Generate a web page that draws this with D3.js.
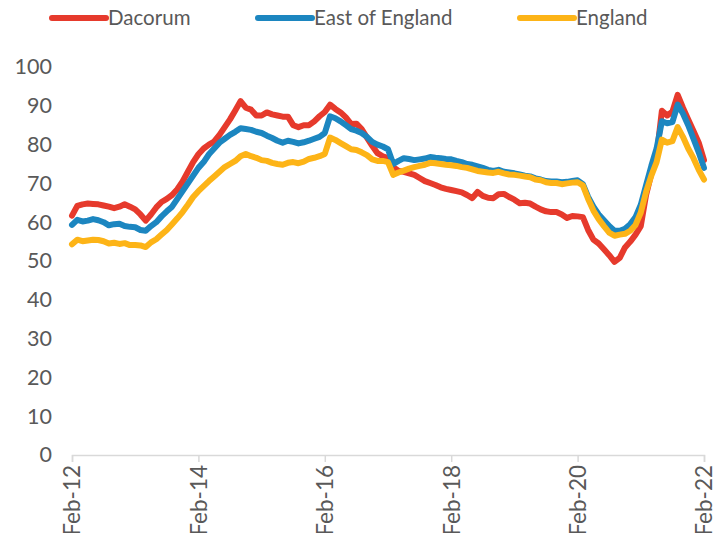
<!DOCTYPE html>
<html>
<head>
<meta charset="utf-8">
<script src="https://cdn.jsdelivr.net/npm/d3@7"></script>
<style>
  body { margin: 0; background: #fff; }
  text { font-family: Lato, "Open Sans", sans-serif; fill: #595959; }
</style>
</head>
<body>
<div id="chart"></div>
<script>
var width = 724, height = 533;

// monthly index, Feb-12 .. Feb-22
var months = d3.timeMonth.range(new Date(2012, 1, 1), new Date(2022, 2, 1));
var tickLabels = ["Feb-12", "Feb-14", "Feb-16", "Feb-18", "Feb-20", "Feb-22"];
var yTicks = [0, 10, 20, 30, 40, 50, 60, 70, 80, 90, 100];
var seriesNames = ["Dacorum", "East of England", "England"];
var colours = ["#e63a2c", "#1c86c0", "#fdb417"];

var dacorum = [
  61.7, 64.2, 64.6, 64.8, 64.7, 64.6, 64.3, 64.0, 63.6, 64.0, 64.6, 64.0,
  63.3, 62.0, 60.4, 62.0, 63.8, 65.2, 66.0, 67.0, 68.5, 70.5, 73.0, 75.5,
  77.5, 79.0, 80.0, 80.8, 82.5, 84.5, 86.5, 88.8, 91.2, 89.5, 89.0, 87.5,
  87.5, 88.3, 87.8, 87.5, 87.2, 87.2, 85.0, 84.5, 85.0, 85.0, 86.0, 87.3,
  88.4, 90.3, 89.2, 88.3, 87.0, 85.3, 85.4, 84.0, 81.8, 79.7, 77.8, 77.0,
  76.5, 74.2, 73.2, 73.0, 72.6, 72.2, 71.4, 70.6, 70.1, 69.6, 69.0, 68.6,
  68.3, 68.0, 67.7, 67.0, 66.2, 67.8, 66.8, 66.3, 66.2, 67.2, 67.3, 66.5,
  65.8, 64.9, 65.0, 64.8, 64.0, 63.3, 62.8, 62.6, 62.6, 62.0, 61.1, 61.6,
  61.5, 61.3, 58.0, 55.5, 54.5, 53.0, 51.5, 49.8, 50.8, 53.5, 55.0, 56.8,
  59.0, 67.0, 72.5, 77.0, 88.7, 87.5, 88.5, 92.8, 89.5, 86.5, 83.5, 80.5,
  76.0
];
var eastOfEngland = [
  59.3, 60.6, 60.2, 60.4, 60.8, 60.5, 60.0, 59.2, 59.5, 59.6, 59.0, 58.8,
  58.7, 58.0, 57.8, 59.0, 60.0, 61.5, 62.8, 64.0, 66.0, 68.0, 70.0, 72.0,
  74.0, 75.5, 77.5, 79.0, 80.5, 81.5, 82.5, 83.3, 84.2, 84.0, 83.8, 83.3,
  83.0, 82.3, 81.7, 81.0, 80.5, 81.0, 80.7, 80.3, 80.6, 81.0, 81.5, 82.0,
  83.0, 87.3, 86.8, 86.0, 85.0, 84.0, 83.6, 83.0, 82.0, 80.7, 80.0, 79.5,
  78.8, 75.0, 75.8, 76.5, 76.3, 76.0, 76.2, 76.4, 76.8, 76.6, 76.5, 76.3,
  76.2, 75.8, 75.5, 75.0, 74.8, 74.4, 74.0, 73.5, 73.2, 73.5, 73.0, 72.8,
  72.6, 72.3, 72.0, 71.8, 71.3, 71.0, 70.6, 70.5, 70.5, 70.3, 70.4, 70.6,
  70.8, 69.8, 66.5, 64.0, 62.0, 60.5, 59.0, 57.8, 57.8, 58.3, 59.5, 61.3,
  64.5, 69.5, 74.5, 79.0, 86.0, 85.5, 85.8, 90.3, 88.0, 85.0, 81.5, 78.0,
  74.0
];
var england = [
  54.3, 55.5, 55.1, 55.3, 55.5, 55.4, 55.1, 54.5, 54.7, 54.4, 54.6, 54.1,
  54.1, 54.0, 53.6, 54.8, 55.6, 56.8, 58.0, 59.5, 61.0, 62.6, 64.5, 66.5,
  68.0, 69.3, 70.6, 71.8, 73.0, 74.2, 75.0, 75.8, 77.0, 77.6, 77.0, 76.6,
  76.0, 75.8, 75.3, 75.0, 74.8, 75.3, 75.5, 75.2, 75.6, 76.3, 76.6, 77.0,
  77.6, 81.8, 81.2, 80.4, 79.6, 78.8, 78.6, 78.0, 77.3, 76.2, 75.8, 75.8,
  75.5, 72.2, 72.8, 73.3, 73.8, 74.2, 74.5, 74.8, 75.3, 75.2, 75.0, 74.8,
  74.7, 74.5, 74.2, 74.0, 73.6, 73.2, 73.0, 72.8, 72.7, 73.0, 72.6, 72.3,
  72.2, 72.0, 71.8, 71.6, 71.0, 70.8, 70.3, 70.1, 70.1, 69.8, 70.0, 70.2,
  70.3, 69.5, 66.0, 63.0, 60.8, 59.0, 57.3, 56.5, 56.8, 57.0, 57.8, 59.3,
  62.5, 67.8, 72.0, 75.5, 81.3, 80.5, 80.9, 84.5, 82.0, 79.0, 76.5, 73.5,
  71.0
];

var series = [dacorum, eastOfEngland, england];

var svg = d3.select("#chart").append("svg")
  .attr("width", width)
  .attr("height", height);

var x = d3.scalePoint()
  .domain(months.map(function (d, i) { return i; }))
  .range([72, 704]);

var y = d3.scaleLinear()
  .domain([0, 100])
  .range([455, 67]);

// y axis, labels only
var yAxis = svg.append("g")
  .attr("transform", "translate(58,0)")
  .call(d3.axisLeft(y).tickValues(yTicks).tickSize(0).tickPadding(6));
yAxis.select(".domain").remove();
yAxis.selectAll("text")
  .attr("font-size", 21.5)
  .style("font-family", "Lato, 'Open Sans', sans-serif");

// x axis
var tickIdx = tickLabels.map(function (d, i) { return i * 24; });
var xAxis = svg.append("g")
  .attr("transform", "translate(0," + y(0) + ")")
  .call(d3.axisBottom(x).tickValues(tickIdx).tickSize(7)
    .tickFormat(function (d, i) { return tickLabels[i]; }));
xAxis.select(".domain").attr("stroke", "#d9d9d9").attr("stroke-width", 1.5);
xAxis.selectAll(".tick line").attr("stroke", "#d9d9d9").attr("stroke-width", 1.5);
xAxis.selectAll("text")
  .attr("font-size", 22.5)
  .style("font-family", "Lato, 'Open Sans', sans-serif")
  .attr("text-anchor", "end")
  .attr("transform", "rotate(-90)")
  .attr("x", -10)
  .attr("y", 0)
  .attr("dy", "0.35em");

var line = d3.line()
  .x(function (d, i) { return x(i); })
  .y(function (d) { return y(d); });

svg.selectAll(".series")
  .data(series)
  .enter()
  .append("path")
  .attr("class", "series")
  .attr("d", line)
  .attr("fill", "none")
  .attr("stroke", function (d, i) { return colours[i]; })
  .attr("stroke-width", 6)
  .attr("stroke-linejoin", "round")
  .attr("stroke-linecap", "round");

// legend
var legendX = [52, 258, 520];
var legend = svg.selectAll(".legend")
  .data(seriesNames)
  .enter()
  .append("g")
  .attr("class", "legend")
  .attr("transform", function (d, i) { return "translate(" + legendX[i] + ",18)"; });

legend.append("line")
  .attr("x1", 0).attr("x2", 54)
  .attr("y1", 0).attr("y2", 0)
  .attr("stroke", function (d, i) { return colours[i]; })
  .attr("stroke-width", 6)
  .attr("stroke-linecap", "round");

legend.append("text")
  .attr("x", 56)
  .attr("dy", "0.35em")
  .attr("font-size", 20.5)
  .text(function (d) { return d; });
</script>
</body>
</html>
